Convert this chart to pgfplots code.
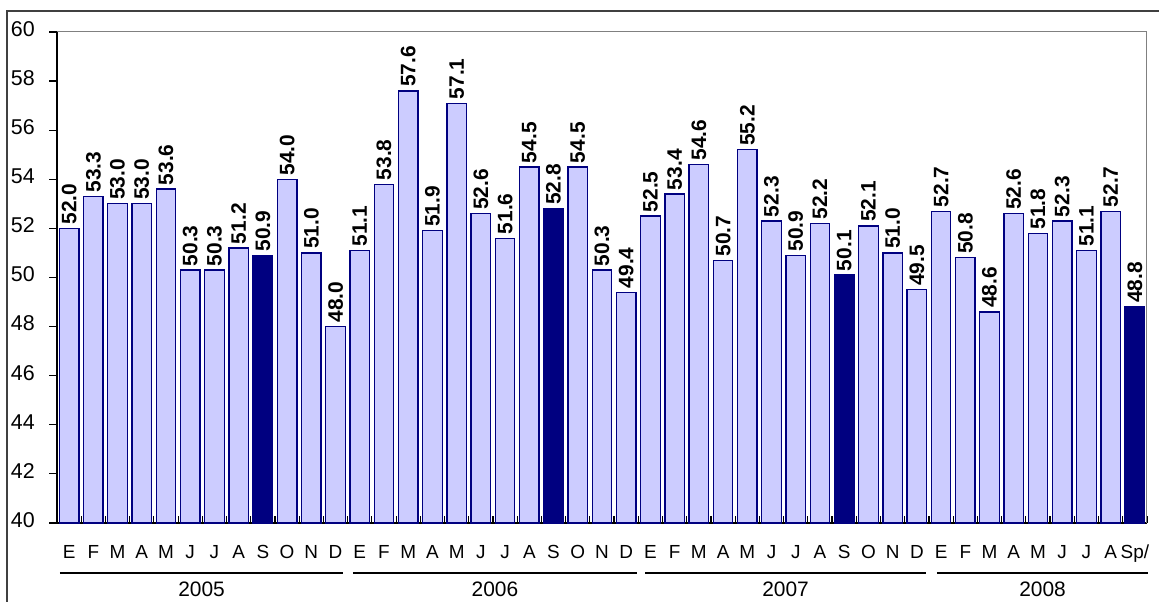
\documentclass[border=0pt]{standalone}
\usepackage{pgfplots}
\pgfplotsset{compat=1.18}
\usepackage{fontspec}
\setmainfont{Liberation Sans}
\definecolor{lightbar}{HTML}{CCCCFF}
\definecolor{navybar}{HTML}{000080}

\pgfplotstableread{
x y
0 52.0
1 53.3
2 53.0
3 53.0
4 53.6
5 50.3
6 50.3
7 51.2
9 54.0
10 51.0
11 48.0
12 51.1
13 53.8
14 57.6
15 51.9
16 57.1
17 52.6
18 51.6
19 54.5
21 54.5
22 50.3
23 49.4
24 52.5
25 53.4
26 54.6
27 50.7
28 55.2
29 52.3
30 50.9
31 52.2
33 52.1
34 51.0
35 49.5
36 52.7
37 50.8
38 48.6
39 52.6
40 51.8
41 52.3
42 51.1
43 52.7
}\lightdata

\pgfplotstableread{
x y
8 50.9
20 52.8
32 50.1
44 48.8
}\darkdata

\begin{document}
\begin{tikzpicture}[x=1bp,y=1bp]
\useasboundingbox (0,0) rectangle (1159,602);
\draw[line width=1.8bp, color=black!75] (7,0) -- (7,591) -- (1159,591);
\begin{axis}[
  at={(57bp,79bp)}, anchor=south west,
  scale only axis, width=1090bp, height=491bp,
  ymin=40, ymax=60, ytick={40,42,...,60},
  xmin=-0.5, xmax=44.5,
  ybar, bar width=19.5bp,
  clip=false,
  axis x line*=bottom, axis y line*=left,
  axis line style={line width=1.4bp, black},
  /pgf/number format/assume math mode=true,
  xtick={0,...,44},
  xticklabels={E,F,M,A,M,J,J,A,S,O,N,D,E,F,M,A,M,J,J,A,S,O,N,D,E,F,M,A,M,J,J,A,S,O,N,D,E,F,M,A,M,J,J,A,Sp/},
  minor xtick={-0.5,0.5,...,44.5},
  xtick align=inside, ytick align=outside,
  major x tick style={draw=none},
  minor x tick style={black, line width=1.2bp},
  y tick style={black, line width=1.2bp},
  minor tick length=7bp, major tick length=8bp,
  typeset ticklabels with strut,
  xticklabel style={font=\fontsize{19}{18}\selectfont, anchor=north, inner sep=0pt, yshift=-22bp},
  yticklabel style={font=\fontsize{21.5}{21}\selectfont, inner sep=0pt, xshift=-14bp},
  nodes near coords={\pgfmathprintnumber[fixed,fixed zerofill,precision=1]{\pgfplotspointmeta}},
  every node near coord/.append style={rotate=90, anchor=west, inner xsep=1bp, outer xsep=3bp, inner ysep=1bp, fill=white, draw=none, text=black, font=\bfseries\fontsize{21}{21}\selectfont},
]
\addplot[bar shift=0pt, fill=lightbar, draw=navybar, line width=1.3bp] table[x=x,y=y] {\lightdata};
\addplot[bar shift=0pt, fill=navybar, draw=navybar, line width=1.3bp] table[x=x,y=y] {\darkdata};
\draw[gray, line width=1bp] (rel axis cs:0,1) -- (rel axis cs:1,1) -- (rel axis cs:1,0);
\draw[line width=1.5bp] ([yshift=-50bp]axis cs:-0.38,40) -- ([yshift=-50bp]axis cs:11.31,40);
\draw[line width=1.5bp] ([yshift=-50bp]axis cs:11.72,40) -- ([yshift=-50bp]axis cs:23.45,40);
\draw[line width=1.5bp] ([yshift=-50bp]axis cs:23.78,40) -- ([yshift=-50bp]axis cs:35.38,40);
\draw[line width=1.5bp] ([yshift=-50bp]axis cs:35.83,40) -- ([yshift=-50bp]axis cs:44.55,40);
\node[font=\fontsize{21}{21}\selectfont, inner sep=0pt] at ([yshift=-66bp]axis cs:5.47,40) {2005};
\node[font=\fontsize{21}{21}\selectfont, inner sep=0pt] at ([yshift=-66bp]axis cs:17.58,40) {2006};
\node[font=\fontsize{21}{21}\selectfont, inner sep=0pt] at ([yshift=-66bp]axis cs:29.58,40) {2007};
\node[font=\fontsize{21}{21}\selectfont, inner sep=0pt] at ([yshift=-66bp]axis cs:40.19,40) {2008};
\end{axis}
\end{tikzpicture}
\end{document}
